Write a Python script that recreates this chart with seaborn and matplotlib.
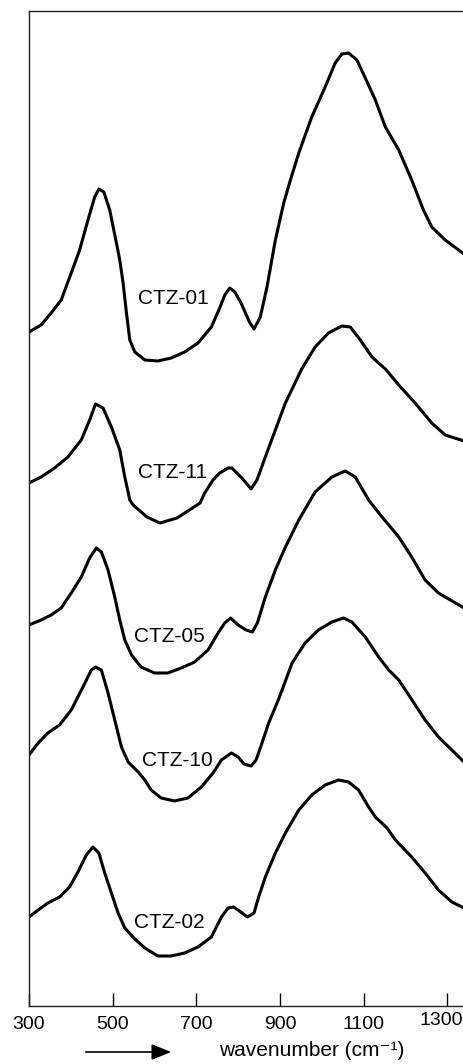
import numpy as np
import pandas as pd
import matplotlib
matplotlib.use("Agg")
import matplotlib.pyplot as plt
import matplotlib.transforms as mtransforms
import seaborn as sns

# IR absorption spectra of the CTZ samples, stacked (arbitrary absorbance units)
samples = ["CTZ-01", "CTZ-11", "CTZ-05", "CTZ-10", "CTZ-02"]

ctz01_wn = [300, 329, 353, 377, 401, 421, 441, 457, 467, 479, 493, 509, 517, 525,
            533, 541, 553, 577, 608, 640, 672, 704, 736, 756, 768, 780, 792, 807,
            827, 838, 853, 869, 889, 909, 925, 945, 976, 1008, 1032, 1048, 1064,
            1084, 1104, 1128, 1152, 1184, 1215, 1243, 1263, 1295, 1340]
ctz01_abs = [6.74, 6.81, 6.93, 7.06, 7.33, 7.56, 7.86, 8.09, 8.17, 8.14, 7.96, 7.63,
             7.46, 7.23, 6.93, 6.66, 6.54, 6.46, 6.45, 6.48, 6.54, 6.63, 6.79, 6.98,
             7.11, 7.18, 7.14, 7.03, 6.84, 6.77, 6.89, 7.19, 7.66, 8.03, 8.26, 8.53,
             8.89, 9.19, 9.43, 9.52, 9.53, 9.46, 9.28, 9.06, 8.79, 8.56, 8.26, 7.96,
             7.79, 7.66, 7.52]

ctz11_wn = [300, 329, 361, 393, 425, 445, 459, 477, 497, 517, 529, 541, 549, 582,
            613, 654, 709, 720, 740, 756, 776, 785, 809, 831, 845, 865, 889, 913,
            936, 952, 984, 1016, 1048, 1068, 1092, 1120, 1152, 1184, 1223, 1263,
            1295, 1340]
ctz11_abs = [5.23, 5.29, 5.38, 5.49, 5.66, 5.86, 6.02, 5.98, 5.79, 5.56, 5.29, 5.06,
             5.01, 4.89, 4.83, 4.88, 5.03, 5.13, 5.26, 5.33, 5.38, 5.38, 5.28, 5.17,
             5.26, 5.49, 5.76, 6.03, 6.23, 6.37, 6.59, 6.73, 6.80, 6.79, 6.66, 6.49,
             6.37, 6.21, 6.03, 5.83, 5.71, 5.65]

ctz05_wn = [300, 329, 353, 377, 401, 425, 445, 461, 473, 489, 505, 517, 529, 545,
            568, 600, 632, 664, 696, 728, 752, 768, 782, 800, 819, 834, 846, 865,
            889, 913, 945, 984, 1024, 1056, 1080, 1112, 1144, 1184, 1215, 1247,
            1279, 1340]
ctz05_abs = [3.81, 3.86, 3.91, 3.98, 4.13, 4.29, 4.48, 4.58, 4.54, 4.36, 4.09, 3.86,
             3.66, 3.51, 3.39, 3.33, 3.33, 3.38, 3.44, 3.56, 3.73, 3.83, 3.88, 3.81,
             3.76, 3.74, 3.83, 4.09, 4.36, 4.59, 4.86, 5.14, 5.29, 5.35, 5.29, 5.06,
             4.89, 4.69, 4.49, 4.26, 4.13, 3.98]

ctz10_wn = [300, 322, 345, 373, 401, 429, 449, 459, 473, 489, 505, 521, 537, 561,
            577, 592, 616, 648, 680, 712, 740, 760, 784, 800, 814, 831, 843, 857,
            873, 897, 929, 960, 992, 1024, 1052, 1072, 1104, 1136, 1160, 1184, 1211,
            1247, 1279, 1311, 1340]
ctz10_abs = [2.51, 2.63, 2.73, 2.81, 2.96, 3.19, 3.36, 3.39, 3.36, 3.13, 2.86, 2.59,
             2.44, 2.34, 2.26, 2.16, 2.08, 2.05, 2.08, 2.19, 2.33, 2.46, 2.53, 2.49,
             2.42, 2.40, 2.46, 2.63, 2.83, 3.07, 3.43, 3.63, 3.76, 3.84, 3.88, 3.84,
             3.69, 3.49, 3.36, 3.26, 3.09, 2.86, 2.69, 2.56, 2.44]

ctz02_wn = [300, 322, 345, 373, 397, 417, 437, 453, 467, 481, 497, 513, 529, 553,
            577, 608, 640, 672, 704, 736, 760, 776, 789, 803, 822, 838, 849, 865,
            889, 913, 945, 976, 1008, 1040, 1064, 1088, 1112, 1128, 1156, 1176,
            1215, 1247, 1279, 1311, 1340]
ctz02_abs = [0.89, 0.96, 1.03, 1.09, 1.19, 1.34, 1.51, 1.59, 1.53, 1.33, 1.13, 0.93,
             0.78, 0.67, 0.58, 0.50, 0.50, 0.53, 0.59, 0.69, 0.89, 0.98, 0.99, 0.95,
             0.89, 0.93, 1.09, 1.29, 1.53, 1.73, 1.96, 2.11, 2.21, 2.26, 2.24, 2.16,
             1.99, 1.89, 1.78, 1.66, 1.49, 1.33, 1.16, 1.04, 0.98]

tick_values = [300, 500, 700, 900, 1100, 1300]

spectra = {
    "CTZ-01": (ctz01_wn, ctz01_abs),
    "CTZ-11": (ctz11_wn, ctz11_abs),
    "CTZ-05": (ctz05_wn, ctz05_abs),
    "CTZ-10": (ctz10_wn, ctz10_abs),
    "CTZ-02": (ctz02_wn, ctz02_abs),
}

# where each sample name sits next to its trace
label_pos = {
    "CTZ-01": (645, 7.08),
    "CTZ-11": (643, 5.33),
    "CTZ-05": (635, 3.70),
    "CTZ-10": (654, 2.45),
    "CTZ-02": (635, 0.83),
}

sns.set_theme(style="white")
plt.rcParams["font.family"] = ["Liberation Sans", "DejaVu Sans"]

fig = plt.figure(figsize=(4.64, 10.64), dpi=100)
ax = fig.add_axes([29 / 464, 58 / 1064, 1 - 29 / 464, 995 / 1064])

for name in samples:
    wn, ab = spectra[name]
    df = pd.DataFrame({"wavenumber": wn, "absorbance": ab})
    sns.lineplot(data=df, x="wavenumber", y="absorbance", color="black",
                 linewidth=2.2, ax=ax, sort=True,
                 solid_joinstyle="round", solid_capstyle="round")
    lx, ly = label_pos[name]
    ax.text(lx, ly, name, fontsize=15, ha="center", va="center", color="black")

ax.set_xlim(300, 1340)
ax.set_ylim(0, 9.95)
ax.set_xticks(tick_values)
ax.set_xticklabels([str(t) for t in tick_values])
ax.set_yticks([])
ax.set_ylabel("")
ax.tick_params(axis="x", direction="in", length=9.5, width=1.0, pad=7,
               labelsize=14, colors="black", bottom=True)

# the last tick label is nudged inwards so it stays on the page
last = ax.get_xticklabels()[-1]
last.set_transform(last.get_transform() +
                   mtransforms.ScaledTranslation(-6 / 100, 4 / 100, fig.dpi_scale_trans))

for side in ["left", "top", "bottom"]:
    ax.spines[side].set_visible(True)
    ax.spines[side].set_color("#222222")
    ax.spines[side].set_linewidth(1.0)
ax.spines["right"].set_visible(False)

ax.set_xlabel("wavenumber (cm\u207b\u00b9)", fontsize=15, color="black", va="center")
ax.xaxis.set_label_coords(0.65, -0.045)

# direction arrow below the axis
fig.patches.append(matplotlib.patches.FancyArrowPatch(
    (83 / 464, 1 - 1052 / 1064), (174 / 464, 1 - 1052 / 1064),
    transform=fig.transFigure, arrowstyle="-|>,head_length=1.0,head_width=0.4",
    mutation_scale=12, color="black", linewidth=1.2))

fig.savefig("out.png", dpi=100)
